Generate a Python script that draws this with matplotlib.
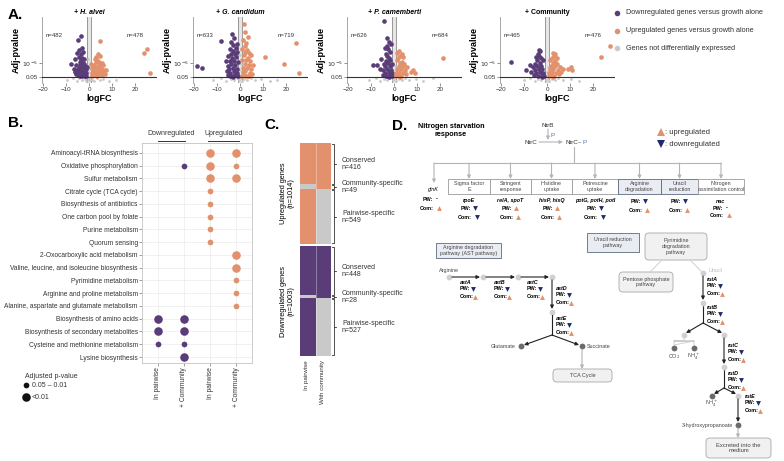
import numpy as np
import matplotlib.pyplot as plt
from matplotlib.patches import Rectangle, FancyBboxPatch

plt.rcParams['font.family'] = ['Liberation Sans', 'DejaVu Sans']

W, H = 784, 461
PURPLE = '#5a3d78'
ORANGE = '#e2916c'
GREY = '#c9c9c9'
NAVY = '#1f2a6b'
LG = '#b5b5b5'

# ---------------- panel A: volcano plots (logFC, -log10 adj p) ----------------
volcano_titles = ['+ H. alvei', '+ G. candidum', '+ P. camemberti', '+ Community']
volcano_n_down = [482, 633, 626, 465]
volcano_n_up = [478, 719, 684, 476]

hal_down = [(-1.2, 1.5), (-1.5, 2.2), (-1.8, 1.6), (-2.1, 3.0), (-2.4, 1.8), (-2.6, 2.6), (-2.9, 3.8),
            (-3.1, 1.6), (-3.3, 2.4), (-3.5, 3.2), (-3.8, 4.4), (-4.0, 2.0), (-4.2, 2.9), (-4.5, 3.6),
            (-4.8, 1.7), (-5.0, 2.5), (-5.3, 3.1), (-5.7, 2.0), (-6.2, 2.6), (-1.4, 3.4), (-2.0, 4.2),
            (-2.7, 5.0), (-3.4, 5.6), (-4.1, 5.2), (-3.0, 6.3), (-2.3, 6.0), (-4.6, 6.6), (-3.7, 7.2),
            (-2.8, 7.8), (-5.2, 7.5), (-4.3, 8.3), (-3.1, 9.0), (-6.0, 6.0), (-7.8, 4.6), (-5.0, 10.9),
            (-3.6, 12.0), (-2.2, 4.8), (-1.6, 2.8), (-3.9, 1.5), (-5.6, 4.4), (-1.1, 4.0), (-6.8, 3.4)]
hal_up = [(1.1, 1.5), (1.4, 2.3), (1.7, 1.7), (2.0, 3.1), (2.3, 1.9), (2.6, 2.7), (2.9, 3.9), (3.2, 1.5),
          (3.5, 2.4), (3.8, 3.3), (4.1, 4.5), (4.4, 2.0), (4.7, 2.9), (5.0, 3.6), (5.4, 1.8), (5.8, 2.6),
          (6.3, 3.2), (6.8, 2.0), (1.3, 3.6), (2.1, 4.4), (2.8, 5.2), (3.4, 5.7), (4.2, 5.3), (3.0, 6.4),
          (2.4, 6.1), (4.8, 6.7), (3.7, 7.3), (5.5, 5.0), (6.0, 4.3), (1.0, 4.8), (4.5, 10.8), (23.7, 7.5),
          (25.0, 8.5), (26.6, 2.4), (7.5, 3.0), (1.8, 2.6)]
hal_ns = [(-9.5, 0.4), (-7.0, 0.9), (-5.5, 0.3), (-4.2, 1.0), (-3.0, 0.5), (-2.0, 0.8), (-1.2, 0.2),
          (-0.6, 0.9), (0.0, 0.4), (0.5, 1.1), (1.3, 0.6), (2.2, 0.3), (3.3, 0.9), (4.5, 0.5), (6.0, 0.8),
          (8.5, 0.3), (11.5, 0.6), (-0.3, 2.5), (0.3, 3.5), (-0.5, 6.0)]

gca_down = [(-0.8, 1.6), (-1.2, 2.4), (-1.5, 3.4), (-1.9, 1.8), (-2.2, 4.4), (-2.5, 2.8), (-2.8, 5.4),
            (-3.1, 3.6), (-3.4, 1.6), (-3.6, 6.2), (-3.9, 4.6), (-4.2, 2.4), (-4.5, 5.4), (-4.8, 3.4),
            (-5.1, 1.9), (-5.4, 4.2), (-5.8, 2.8), (-1.0, 5.2), (-1.7, 6.6), (-2.4, 7.4), (-3.2, 8.0),
            (-4.0, 7.2), (-2.0, 8.8), (-2.9, 9.6), (-3.8, 10.4), (-1.4, 10.0), (-4.6, 8.6), (-5.2, 6.8),
            (-2.6, 11.4), (-3.5, 12.6), (-8.5, 10.8), (-6.3, 5.5), (-18.8, 4.2), (-16.7, 3.6), (-1.3, 7.8),
            (-2.1, 2.0), (-3.0, 1.4), (-4.4, 1.6)]
gca_up = [(0.8, 1.6), (1.1, 2.6), (1.4, 3.6), (1.7, 1.9), (2.0, 4.6), (2.3, 2.8), (2.6, 5.6), (2.9, 3.7),
          (3.2, 1.6), (3.5, 6.3), (3.8, 4.5), (4.1, 2.4), (4.4, 5.5), (4.8, 3.3), (5.1, 2.0), (1.0, 5.6),
          (1.6, 7.0), (2.2, 7.8), (3.0, 8.4), (3.8, 7.6), (1.9, 9.4), (2.7, 10.2), (1.3, 11.0), (3.4, 11.8),
          (2.1, 13.0), (1.5, 15.2), (4.6, 7.0), (5.5, 4.5), (10.7, 6.5), (19.0, 4.7), (24.3, 10.3),
          (25.6, 2.3), (0.9, 8.6), (2.5, 1.5), (4.0, 1.5)]
gca_ns = [(-12.0, 0.4), (-8.5, 0.9), (-6.0, 0.3), (-4.0, 0.8), (-2.5, 0.4), (-1.5, 1.0), (-0.5, 0.5),
          (0.2, 0.9), (0.7, 0.3), (1.8, 0.7), (3.0, 0.4), (4.5, 1.0), (6.5, 0.5), (9.0, 0.8), (13.0, 0.3),
          (16.0, 0.6), (-0.4, 3.0), (0.4, 4.8), (0.0, 7.0)]

pca_down = [(-0.8, 1.5), (-1.1, 2.3), (-1.4, 3.2), (-1.7, 1.8), (-2.0, 4.1), (-2.3, 2.6), (-2.6, 4.9),
            (-2.9, 3.4), (-3.2, 1.6), (-3.5, 5.5), (-3.8, 4.2), (-4.1, 2.2), (-4.4, 4.8), (-4.7, 3.1),
            (-5.0, 1.8), (-1.0, 4.8), (-1.6, 5.6), (-2.2, 6.3), (-2.9, 6.8), (-3.6, 7.3), (-1.9, 7.9),
            (-2.6, 8.6), (-3.3, 9.3), (-1.3, 9.8), (-2.1, 10.5), (-4.0, 9.0), (-3.0, 11.4), (-4.4, 15.9),
            (-9.0, 4.5), (-7.5, 4.3), (-6.0, 3.3), (-5.6, 5.9), (-2.4, 1.4), (-3.7, 1.6)]
pca_up = [(0.7, 1.5), (1.0, 2.4), (1.3, 3.3), (1.6, 1.8), (1.9, 4.2), (2.2, 2.7), (2.5, 5.0), (2.8, 3.5),
          (3.1, 1.6), (3.4, 5.3), (3.7, 4.1), (4.0, 2.3), (4.3, 4.6), (4.7, 3.2), (5.1, 2.0), (5.5, 3.8),
          (1.1, 5.6), (1.7, 6.2), (2.4, 6.8), (3.2, 7.4), (2.0, 8.0), (3.8, 6.4), (1.4, 7.6), (7.2, 2.7),
          (8.0, 3.0), (9.0, 2.4), (21.1, 6.2), (2.7, 1.4)]
pca_ns = [(-11.0, 0.5), (-8.0, 0.9), (-6.0, 0.3), (-4.5, 0.8), (-3.0, 0.4), (-1.8, 1.0), (-0.7, 0.5),
          (0.1, 0.9), (0.7, 0.3), (1.9, 0.7), (3.2, 0.4), (4.6, 1.0), (6.4, 0.5), (9.5, 0.8), (12.5, 0.3),
          (17.0, 1.1), (-0.3, 2.8), (0.5, 4.2)]

com_down = [(-1.5, 1.5), (-1.8, 2.4), (-2.1, 3.3), (-2.4, 1.8), (-2.7, 4.2), (-3.0, 2.7), (-3.3, 5.0),
            (-3.6, 3.5), (-3.9, 1.6), (-4.2, 5.6), (-4.5, 4.2), (-4.8, 2.3), (-5.1, 4.8), (-5.4, 3.2),
            (-5.8, 1.9), (-6.3, 3.9), (-7.0, 2.6), (-2.0, 5.6), (-2.6, 6.2), (-3.4, 6.8), (-4.0, 7.4),
            (-2.9, 8.0), (-3.7, 8.4), (-5.0, 6.4), (-9.0, 3.0), (-15.9, 5.1), (-7.5, 4.5), (-2.3, 1.4)]
com_up = [(0.6, 1.5), (0.9, 2.4), (1.2, 3.3), (1.5, 1.8), (1.8, 4.2), (2.1, 2.7), (2.4, 5.0), (2.7, 3.5),
          (3.0, 1.6), (3.3, 5.4), (3.6, 4.1), (3.9, 2.3), (4.2, 4.7), (4.6, 3.2), (5.0, 2.0), (5.5, 3.9),
          (6.2, 2.6), (6.8, 3.4), (1.3, 5.6), (2.0, 6.3), (2.8, 6.9), (3.6, 7.4), (4.4, 6.2), (2.4, 7.6),
          (9.0, 3.5), (10.2, 3.8), (11.0, 3.0), (23.5, 6.5), (27.3, 9.3), (2.6, 1.4)]
com_ns = [(-10.0, 0.5), (-7.5, 0.9), (-5.5, 0.3), (-4.0, 0.8), (-2.8, 0.4), (-1.6, 1.0), (-0.6, 0.5),
          (0.2, 0.9), (0.8, 0.3), (2.0, 0.7), (3.4, 0.4), (4.8, 1.0), (7.0, 0.5), (10.5, 0.8), (14.0, 0.3),
          (-0.2, 2.6), (0.4, 4.0)]

volcano_down = [hal_down, gca_down, pca_down, com_down]
volcano_up = [hal_up, gca_up, pca_up, com_up]
volcano_ns = [hal_ns, gca_ns, pca_ns, com_ns]
volcano_left = [42, 193, 347, 500]

# ---------------- panel B: enriched pathways ----------------
pathways = ['Aminoacyl-tRNA biosynthesis', 'Oxidative phosphorylation', 'Sulfur metabolism',
            'Citrate cycle (TCA cycle)', 'Biosynthesis of antibiotics', 'One carbon pool by folate',
            'Purine metabolism', 'Quorum sensing', '2-Oxocarboxylic acid metabolism',
            'Valine, leucine, and isoleucine biosynthesis', 'Pyrimidine metabolism',
            'Arginine and proline metabolism', 'Alanine, aspartate and glutamate metabolism',
            'Biosynthesis of amino acids', 'Biosynthesis of secondary metabolites',
            'Cysteine and methionine metabolism', 'Lysine biosynthesis']
conditions = ['In pairwise', '+ Community', 'In pairwise', '+ Community']
dot_row = [0, 0, 1, 1, 1, 2, 2, 3, 4, 5, 6, 7, 8, 9, 10, 11, 12, 13, 13, 14, 14, 15, 15, 16]
dot_col = [2, 3, 1, 2, 3, 2, 3, 2, 2, 2, 2, 2, 3, 3, 3, 3, 3, 0, 1, 0, 1, 0, 1, 1]
dot_strong = [1, 1, 0, 1, 0, 1, 1, 0, 0, 0, 0, 0, 1, 1, 0, 0, 0, 1, 1, 1, 1, 0, 0, 1]  # 1: p<0.01

# ---------------- panel C: overlap of DE genes ----------------
overlap_groups = ['Conserved', 'Community-specific', 'Pairwise-specific']
up_counts = [416, 49, 549]
down_counts = [448, 28, 527]

fig = plt.figure(figsize=(7.84, 4.61), dpi=100)


def px_axes(l, t, w, h, **kw):
    return fig.add_axes([l / W, 1 - (t + h) / H, w / W, h / H], **kw)


# ---- A ----
for k in range(4):
    ax = px_axes(volcano_left[k], 17, 115, 66)
    ax.axvspan(-1, 1, color='#e6e6e6', lw=0, zorder=0)
    for xv in (-1, 1):
        ax.axvline(xv, color='#8a8a8a', lw=0.6, zorder=1)
    ns = np.array(volcano_ns[k]).T
    dn = np.array(volcano_down[k]).T
    up = np.array(volcano_up[k]).T
    ax.scatter(ns[0], ns[1], s=4, color=GREY, lw=0, zorder=2)
    ax.scatter(dn[0], dn[1], s=11, color=PURPLE, lw=0, zorder=3)
    ax.scatter(up[0], up[1], s=11, color=ORANGE, lw=0, zorder=3)
    ax.axhline(-np.log10(0.05), color='#333333', lw=0.8, zorder=4)
    ax.set_xlim(-20.5, 29.5)
    ax.set_ylim(-0.3, 17)
    ax.set_xticks([-20, -10, 0, 10, 20])
    ax.set_yticks([-np.log10(0.05), 5])
    ax.set_yticklabels(['0.05', r'$10^{-5}$'])
    for s in ('top', 'right', 'bottom'):
        ax.spines[s].set_visible(False)
    ax.spines['left'].set_color('#999999')
    ax.spines['left'].set_linewidth(0.6)
    ax.tick_params(labelsize=4.5, length=2, width=0.5, color='#666666', pad=1, labelcolor='#333333')
    ax.set_xlabel('logFC', fontsize=6.5, fontweight='bold', labelpad=1)
    ax.set_ylabel('Adj-pvalue', fontsize=6.5, fontweight='bold', labelpad=1)
    ax.text(0, 17.3, volcano_titles[k], fontsize=5, fontweight='bold',
            style='normal' if k == 3 else 'italic', ha='center', va='bottom')
    ax.text(0.03, 0.70, 'n=%d' % volcano_n_down[k], transform=ax.transAxes, fontsize=4.3, color='#333333')
    ax.text(0.74, 0.70, 'n=%d' % volcano_n_up[k], transform=ax.transAxes, fontsize=4.3, color='#333333')

# ---- B ----
axb = px_axes(142, 143, 110, 220)
for r, c, big in zip(dot_row, dot_col, dot_strong):
    axb.scatter(c, r, s=38 if big else 17, color=PURPLE if c < 2 else ORANGE, lw=0, zorder=3)
axb.set_xlim(-0.6, 3.6)
axb.set_ylim(16.47, -0.78)
axb.set_xticks(range(4))
axb.set_xticklabels(conditions, rotation=90, fontsize=4.8)
axb.set_yticks(range(len(pathways)))
axb.set_yticklabels(pathways, fontsize=4.8)
axb.grid(color='#ececec', lw=0.5)
axb.set_axisbelow(True)
for s in axb.spines.values():
    s.set_color('#c4c4c4')
    s.set_linewidth(0.6)
axb.tick_params(length=2, width=0.4, color='#555555', pad=1, labelcolor='#333333')

# ---- C ----
blocks = [(143, 101, up_counts, ORANGE), (246, 110, down_counts, PURPLE)]
for top, height, counts, col in blocks:
    axc = px_axes(300, top, 31, height)
    bottom = 0
    for g, n in enumerate(counts):
        c_pair = GREY if g == 1 else col
        c_comm = GREY if g == 2 else col
        axc.bar([0, 1], [n, n], bottom=bottom, width=1, color=[c_pair, c_comm], lw=0)
        bottom += n
    axc.axvline(0.5, color='#ffffff', lw=0.4, alpha=0.6)
    axc.set_xlim(-0.5, 1.5)
    axc.set_ylim(sum(counts), 0)
    axc.axis('off')

# ---- overlay for annotations and the pathway diagram ----
ov = fig.add_axes([0, 0, 1, 1], zorder=5)
ov.set_xlim(0, W)
ov.set_ylim(H, 0)
ov.axis('off')
ov.patch.set_alpha(0)

for lab, x, y in [('A.', 8, 15), ('B.', 8, 123), ('C.', 264, 125), ('D.', 392, 126)]:
    ov.text(x, y, lab, fontsize=11, fontweight='bold', va='center')

# A legend
legend_labels = ['Downregulated genes versus growth alone', 'Upregulated genes versus growth alone',
                 'Genes not differentially expressed']
for lab, col, y in zip(legend_labels, [PURPLE, ORANGE, GREY], [13, 31, 48]):
    ov.scatter(617, y, s=16, color=col, lw=0)
    ov.text(626, y, lab, fontsize=5.2, va='center', color='#333333')

# B headers and legend
ov.text(171, 133, 'Downregulated', fontsize=5, ha='center', va='center', color='#333333')
ov.plot([158, 185], [141, 141], color='#333333', lw=0.7)
ov.text(224, 133, 'Upregulated', fontsize=5, ha='center', va='center', color='#333333')
ov.plot([208, 239], [141, 141], color='#333333', lw=0.7)
ov.text(25, 376, 'Adjusted p-value', fontsize=5, va='center', color='#333333')
ov.scatter(26, 385, s=17, color='#111111', lw=0)
ov.text(32, 385, '0.05 – 0.01', fontsize=5, va='center', color='#333333')
ov.scatter(26, 397, s=38, color='#111111', lw=0)
ov.text(32, 397, '<0.01', fontsize=5, va='center', color='#333333')

# C labels and brackets
ov.text(287, 193, 'Upregulated genes\n(n=1014)', fontsize=5.3, rotation=90, ha='center', va='center',
        linespacing=1.1)
ov.text(287, 301, 'Downregulated genes\n(n=1003)', fontsize=5.3, rotation=90, ha='center', va='center',
        linespacing=1.1)
ov.text(307, 360, 'In pairwise', fontsize=4.5, rotation=90, ha='center', va='top', color='#333333')
ov.text(323, 360, 'With community', fontsize=4.5, rotation=90, ha='center', va='top', color='#333333')
for top, height, counts, col in blocks:
    total = sum(counts)
    y0 = top
    for name, n in zip(overlap_groups, counts):
        y1 = y0 + n / total * height
        ov.plot([332, 334, 334, 332], [y0 + 0.6, y0 + 0.6, y1 - 0.6, y1 - 0.6], color='#333333', lw=0.6)
        mid = (y0 + y1) / 2
        ov.plot([334, 336], [mid, mid], color='#333333', lw=0.6)
        ov.text(342, mid - 3.5, name, fontsize=5, va='center', color='#333333')
        ov.text(342, mid + 3.5, 'n=%d' % n, fontsize=5, va='center', color='#333333')
        y0 = y1


# ---- D: nitrogen starvation response diagram ----
def arrow(p0, p1, color='#222222', lw=0.8):
    ov.annotate('', xy=p1, xytext=p0,
                arrowprops=dict(arrowstyle='-|>', color=color, lw=lw, mutation_scale=5,
                                shrinkA=0, shrinkB=0))


def mark(x, y, kind):
    if kind == 'up':
        ov.plot(x, y, marker='^', color=ORANGE, ms=3.5, ls='', mew=0)
    elif kind == 'down':
        ov.plot(x, y, marker='v', color=NAVY, ms=3.5, ls='', mew=0)
    else:
        ov.text(x - 1, y, '-', fontsize=4, fontweight='bold', va='center')


def centered_block(x, y, gene, pw, com, dy=(8, 17)):
    if gene:
        ov.text(x, y, gene, fontsize=3.9, style='italic', fontweight='bold', ha='center', va='center')
    ov.text(x + 2, y + dy[0], 'PW:', fontsize=3.9, fontweight='bold', ha='right', va='center')
    mark(x + 6, y + dy[0], pw)
    ov.text(x + 3, y + dy[1], 'Com:', fontsize=3.9, fontweight='bold', ha='right', va='center')
    mark(x + 8, y + dy[1], com)


def left_block(x, y, gene, pw, com):
    ov.text(x, y, gene, fontsize=3.9, style='italic', fontweight='bold', va='center')
    ov.text(x, y + 6.5, 'PW:', fontsize=3.9, fontweight='bold', va='center')
    mark(x + 13, y + 6.5, pw)
    ov.text(x, y + 14.5, 'Com:', fontsize=3.9, fontweight='bold', va='center')
    mark(x + 15, y + 14.5, com)


def box(x0, y0, x1, y1, text, shaded=False, round_=False, fs=3.9):
    if round_:
        p = FancyBboxPatch((x0, y0), x1 - x0, y1 - y0, boxstyle='round,pad=0,rounding_size=4',
                           fc='#f1f1f1', ec='#a8a8a8', lw=0.6)
    else:
        p = Rectangle((x0, y0), x1 - x0, y1 - y0, fc='#e9edf3' if shaded else 'white',
                      ec='#5d6b80' if shaded else '#9a9a9a', lw=0.6)
    ov.add_patch(p)
    ov.text((x0 + x1) / 2, (y0 + y1) / 2, text, fontsize=fs, ha='center', va='center',
            color='#444444', linespacing=1.15)


ov.text(451, 130, 'Nitrogen starvation\nresponse', fontsize=5.2, fontweight='bold', ha='center',
        va='center', linespacing=1.2)
ov.text(548, 125, 'NtrB', fontsize=4.5, ha='center', va='center', color='#333333')
arrow((548, 129), (548, 140), color=LG)
ov.text(551, 135, 'P', fontsize=4.5, color='#4a6fb5', va='center')
ov.text(531, 142, 'NtrC', fontsize=4.5, ha='center', va='center', color='#333333')
arrow((539, 142), (563, 142), color=LG)
ov.text(566, 142, 'NtrC~', fontsize=4.5, va='center', color='#333333')
ov.text(583, 142, 'P', fontsize=4.5, va='center', color='#4a6fb5')
ov.plot([574, 574], [147, 163], color=LG, lw=0.8)

# legend of triangles
ov.plot(661, 132, marker='^', color=ORANGE, ms=5.5, mew=0)
ov.text(665, 132, ': upregulated', fontsize=5.5, va='center', color='#333333')
ov.plot(661, 144, marker='v', color=NAVY, ms=5.5, mew=0)
ov.text(665, 144, ': downregulated', fontsize=5.5, va='center', color='#333333')

nsr_edges = [448, 490, 531, 572, 618, 661, 698, 744]
nsr_boxes = ['Sigma factor\nE', 'Stringent\nresponse', 'Histidine\nuptake', 'Putrescine\nuptake',
             'Arginine\ndegradation', 'Uracil\nreduction', 'Nitrogen\nassimilation control']
nsr_shaded = [False, False, False, False, True, True, False]
nsr_genes = ['rpoE', 'relA, spoT', 'hisP, hisQ', 'potG, potH, potI', '', '', 'nac']
nsr_pw = ['down', 'up', 'up', 'down', 'down', 'down', None]
nsr_com = ['down', 'up', 'up', 'down', 'up', 'up', 'up']

centers = [(a + b) / 2 for a, b in zip(nsr_edges[:-1], nsr_edges[1:])]
ov.plot([434, centers[-1]], [163, 163], color=LG, lw=0.8)
arrow((434, 163), (434, 183), color=LG)
ov.text(433, 189, 'glnK', fontsize=3.9, style='italic', ha='center', va='center')
centered_block(431, 191, '', None, 'up')
for i, cx in enumerate(centers):
    arrow((cx, 163), (cx, 179), color=LG)
    box(nsr_edges[i], 179, nsr_edges[i + 1], 194, nsr_boxes[i], shaded=nsr_shaded[i])
    if nsr_genes[i] and i < 6:
        centered_block(cx, 200, nsr_genes[i], nsr_pw[i], nsr_com[i])
    elif nsr_genes[i]:
        centered_block(cx, 201, nsr_genes[i], nsr_pw[i], nsr_com[i], dy=(7, 14))
    else:
        centered_block(cx, 193, '', nsr_pw[i], nsr_com[i])

# AST pathway
box(436, 243, 501, 258, 'Arginine degradation\npathway (AST pathway)', shaded=True)
ast_nodes = [(449, 277), (483, 277), (518, 277), (552, 277), (552, 312)]
ov.text(449, 270, 'Arginine', fontsize=3.9, ha='center', va='center', color='#444444')
for (x0, y0), (x1, y1) in zip(ast_nodes[:-1], ast_nodes[1:]):
    if y0 == y1:
        arrow((x0 + 3, y0), (x1 - 3, y1))
    else:
        arrow((x0, y0 + 3), (x1, y1 - 3))
for x, y in ast_nodes:
    ov.plot(x, y, 'o', ms=4.2, color='#d0d0d0', mew=0)
ast_genes = ['astA', 'astB', 'astC', 'astD', 'astE']
ast_pos = [(460, 282), (494, 282), (527, 282), (556, 288), (556, 318)]
for g, (x, y) in zip(ast_genes, ast_pos):
    left_block(x, y, g, 'down', 'up')
ov.plot([552, 552], [315, 335], color='#222222', lw=0.8)
arrow((552, 335), (524, 345))
arrow((552, 335), (579, 345))
ov.plot(521, 346, 'o', ms=4.2, color='#6b6b6b', mew=0)
ov.plot(582, 346, 'o', ms=4.2, color='#6b6b6b', mew=0)
ov.text(516, 346, 'Glutamate', fontsize=3.9, ha='right', va='center', color='#444444')
ov.text(587, 346, 'Succinate', fontsize=3.9, va='center', color='#444444')
arrow((582, 349), (582, 369), color=LG)
box(553, 369, 612, 382, 'TCA Cycle', round_=True)

# uracil / pyrimidine pathway
box(587, 233, 639, 252, 'Uracil reduction\npathway', shaded=True)
box(645, 233, 707, 260, 'Pyrimidine\ndegradation\npathway', round_=True)
box(619, 272, 673, 292, 'Pentose phosphate\npathway', round_=True)
ov.plot([662, 650], [260, 272], color='#d5d5d5', lw=0.8)
ov.plot([690, 701], [260, 271], color='#d5d5d5', lw=0.8)
ov.text(709, 270, 'Uracil', fontsize=3.9, va='center', color='#bbbbbb')
arrow((703, 276), (703, 300))
ov.plot([703, 703], [306, 323], color='#222222', lw=0.8)
arrow((703, 323), (686, 333))
arrow((703, 323), (722, 333))
ov.plot([684, 684, 674, 694, 674, 674, 694, 694], [338, 341, 341, 341, 341, 345, 341, 345],
        color='#cccccc', lw=0.6)
ov.plot(674, 348, 'o', ms=4.2, color='#6b6b6b', mew=0)
ov.plot(694, 348, 'o', ms=4.2, color='#6b6b6b', mew=0)
ov.text(674, 357, r'CO$_2$', fontsize=3.9, ha='center', va='center', color='#444444')
ov.text(694, 357, r'NH$_4^+$', fontsize=3.9, ha='center', va='center', color='#444444')
arrow((724, 338), (724, 364))
ov.plot([724, 724], [370, 388], color='#222222', lw=0.8)
arrow((724, 388), (714, 394))
arrow((724, 388), (736, 394))
ov.plot(712, 396, 'o', ms=4.2, color='#6b6b6b', mew=0)
ov.text(712, 404, r'NH$_4^+$', fontsize=3.9, ha='center', va='center', color='#444444')
arrow((738, 399), (738, 422))
ov.plot(738, 425, 'o', ms=4.2, color='#6b6b6b', mew=0)
ov.text(733, 425, '3-hydroxypropanoate', fontsize=3.9, ha='right', va='center', color='#444444')
arrow((738, 428), (738, 438), color=LG)
box(706, 438, 771, 458, 'Excreted into the\nmedium', round_=True, fs=4.2)
for x, y in [(703, 273), (703, 303), (684, 335), (724, 335), (724, 367), (738, 396)]:
    ov.plot(x, y, 'o', ms=4.2, color='#d0d0d0', mew=0)
rut_genes = ['rutA', 'rutB', 'rutC', 'rutD', 'rutE']
rut_pos = [(707, 279), (707, 307), (728, 345), (728, 373), (745, 396)]
for g, (x, y) in zip(rut_genes, rut_pos):
    left_block(x, y, g, 'down', 'up')

plt.savefig('out.png', dpi=100)
